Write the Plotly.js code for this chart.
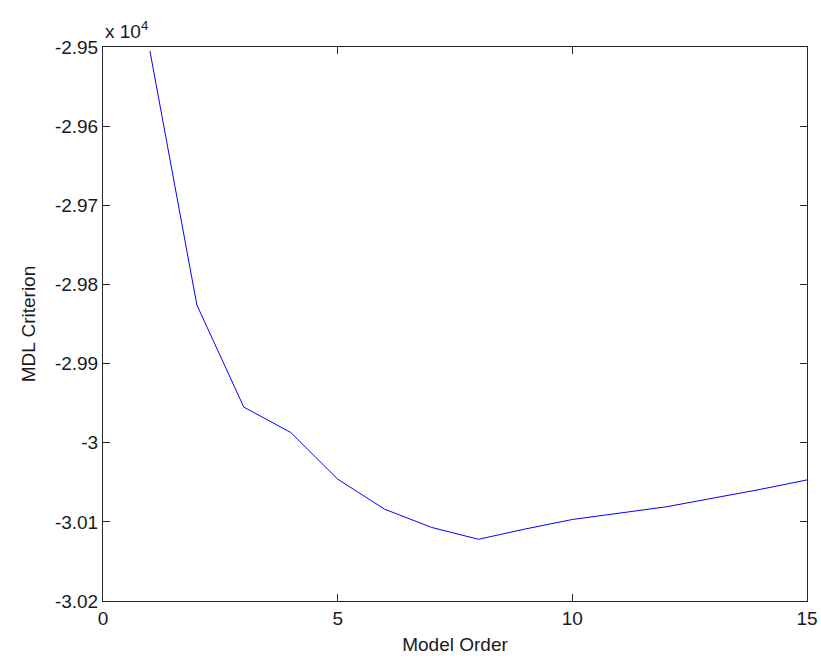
<!DOCTYPE html>
<html>
<head>
<meta charset="utf-8">
<script src="https://cdn.plot.ly/plotly-3.0.1.min.js"></script>
<style>
  html, body { margin: 0; padding: 0; background: #fff; }
  #chart { width: 821px; height: 661px; }
</style>
</head>
<body>
<div id="chart"></div>
<script>
// Model order vs MDL criterion
const modelOrder = [1, 2, 3, 4, 5, 6, 7, 8, 9, 10, 11, 12, 13, 14, 15];
const mdlValues = [-29505, -29826, -29955, -29987, -30046, -30084, -30107, -30122,
                   -30109, -30097, -30089, -30081, -30070, -30059, -30047];

const xTickVals = [0, 5, 10, 15];
const yTickVals = [-29500, -29600, -29700, -29800, -29900, -30000, -30100, -30200];
const yTickText = ['-2.95', '-2.96', '-2.97', '-2.98', '-2.99', '-3', '-3.01', '-3.02'];

const font = 'Liberation Sans, Arial, Helvetica, sans-serif';

const trace = {
  x: modelOrder,
  y: mdlValues,
  type: 'scatter',
  mode: 'lines',
  line: { color: '#0000ff', width: 1 },
  hoverinfo: 'skip'
};

const axisCommon = {
  showgrid: false,
  zeroline: false,
  showline: true,
  linecolor: '#262626',
  linewidth: 1,
  mirror: 'ticks',
  ticks: 'inside',
  ticklen: 7,
  tickwidth: 1,
  tickcolor: '#262626',
  tickfont: { family: font, size: 19, color: '#1a1a1a' }
};

const layout = {
  width: 821,
  height: 661,
  margin: { l: 103, r: 14, t: 47, b: 60 },
  paper_bgcolor: '#fff',
  plot_bgcolor: '#fff',
  showlegend: false,
  font: { family: font, size: 19, color: '#1a1a1a' },
  xaxis: Object.assign({}, axisCommon, {
    range: [0, 15],
    tickmode: 'array',
    tickvals: xTickVals,
    ticktext: xTickVals.map(String),
    title: { text: 'Model Order', font: { family: font, size: 19, color: '#1a1a1a' }, standoff: 9 }
  }),
  yaxis: Object.assign({}, axisCommon, {
    range: [-30200, -29500],
    tickmode: 'array',
    tickvals: yTickVals,
    ticktext: yTickText,
    title: { text: 'MDL Criterion', font: { family: font, size: 19, color: '#1a1a1a' }, standoff: 14 }
  }),
  annotations: [{
    xref: 'paper', yref: 'paper',
    x: 0, y: 1,
    xanchor: 'left', yanchor: 'bottom',
    yshift: 3,
    showarrow: false,
    text: 'x 10<sup>4</sup>',
    font: { family: font, size: 19, color: '#1a1a1a' }
  }]
};

Plotly.newPlot('chart', [trace], layout, { staticPlot: true, displayModeBar: false });
</script>
</body>
</html>
